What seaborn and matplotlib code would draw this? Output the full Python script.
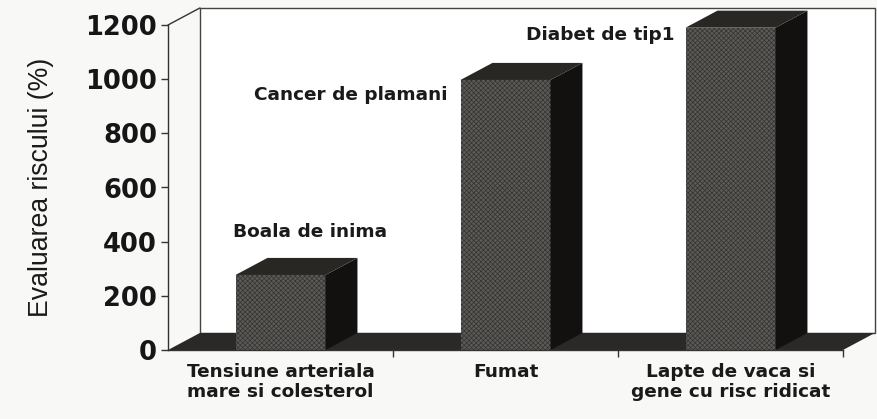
import matplotlib
matplotlib.use("Agg")
import matplotlib.pyplot as plt
import pandas as pd
import seaborn as sns
from matplotlib.patches import Polygon

# ------------------ DATA ------------------
factors = ["Tensiune arteriala\nmare si colesterol", "Fumat", "Lapte de vaca si\ngene cu risc ridicat"]
risk = [277, 997, 1190]
outcomes = ["Boala de inima", "Cancer de plamani", "Diabet de tip1"]
outcome_x = [0.13, 0.31, 1.42]
outcome_y = [436, 941, 1163]
yticks = [0, 200, 400, 600, 800, 1000, 1200]

# ------------------ STYLE ------------------
W, H = 877, 419
BG = "#f8f8f7"
FLOOR = "#2b2927"
TOP = "#292724"
SIDE = "#121110"
FRONT = "#5c5a57"
DX, DY = 0.142, 63   # depth of the fake 3D, in data units

sns.set_theme(style="ticks")
plt.rcParams["font.family"] = ["DejaVu Sans"]
plt.rcParams["hatch.linewidth"] = 0.5

df = pd.DataFrame({"factor": factors, "risk": risk})

fig = plt.figure(figsize=(W / 100, H / 100), dpi=100, facecolor=BG)
ax = fig.add_axes([168 / W, 1 - 350 / H, 675 / W, 325 / H])
ax.patch.set_alpha(0)

sns.barplot(data=df, x="factor", y="risk", color=FRONT, saturation=1, width=0.4, ax=ax, zorder=3)
ax.set_xlim(-0.5, 2.5)
ax.set_ylim(0, 1200)


def add_poly(pts, fc, z, ec="none", lw=0):
    ax.add_patch(Polygon(pts, closed=True, facecolor=fc, edgecolor=ec, lw=lw, zorder=z, clip_on=False))


# back wall, side wall line and floor
x0, x1 = ax.get_xlim()
y0, y1 = ax.get_ylim()
add_poly([(x0 + DX, y0 + DY), (x1 + DX, y0 + DY), (x1 + DX, y1 + DY), (x0 + DX, y1 + DY)], "white", 0.5, "#444444", 1.0)
add_poly([(x0, y0), (x1, y0), (x1 + DX, y0 + DY), (x0 + DX, y0 + DY)], FLOOR, 1)
ax.plot([x0, x0 + DX], [y1, y1 + DY], color="#333333", lw=1, clip_on=False, zorder=1)

# sides and tops of the bars
for bar in ax.patches[:3]:
    bx, bw, bh = bar.get_x(), bar.get_width(), bar.get_height()
    bar.set_hatch("xxxxxxx")
    bar.set_edgecolor("#343331")
    bar.set_linewidth(0)
    add_poly([(bx + bw, 0), (bx + bw + DX, DY), (bx + bw + DX, bh + DY), (bx + bw, bh)], SIDE, 3)
    add_poly([(bx, bh), (bx + bw, bh), (bx + bw + DX, bh + DY), (bx + DX, bh + DY)], TOP, 3)

for name, tx, ty in zip(outcomes, outcome_x, outcome_y):
    ax.text(tx, ty, name, ha="center", va="center", fontsize=13.3, fontweight="bold", color="#1a1a1a", zorder=5)

# ------------------ AXES ------------------
sns.despine(ax=ax, top=True, right=True)
for s in ["left", "bottom"]:
    ax.spines[s].set_color("#333333")
    ax.spines[s].set_linewidth(1)
    ax.spines[s].set_zorder(4)

ax.set_yticks(yticks)
ax.set_yticklabels([str(v) for v in yticks], fontsize=18.5, fontweight="bold", color="#161616")
ax.tick_params(axis="y", length=5, width=1, color="#333333", pad=3)

ax.set_xticks([0, 1, 2])
ax.set_xticklabels(factors, fontsize=13.3, fontweight="bold", color="#1a1a1a", linespacing=1.2)
ax.set_xticks([0.5, 1.5, 2.5], minor=True)
ax.tick_params(axis="x", which="major", length=0, pad=9)
ax.tick_params(axis="x", which="minor", length=5, width=1, color="#333333")

ax.set_xlabel("")
ax.set_ylabel("Evaluarea riscului (%)", fontsize=19.2, family="Liberation Sans", color="#1a1a1a", labelpad=22)

fig.savefig("out.png", dpi=100, facecolor=BG)
